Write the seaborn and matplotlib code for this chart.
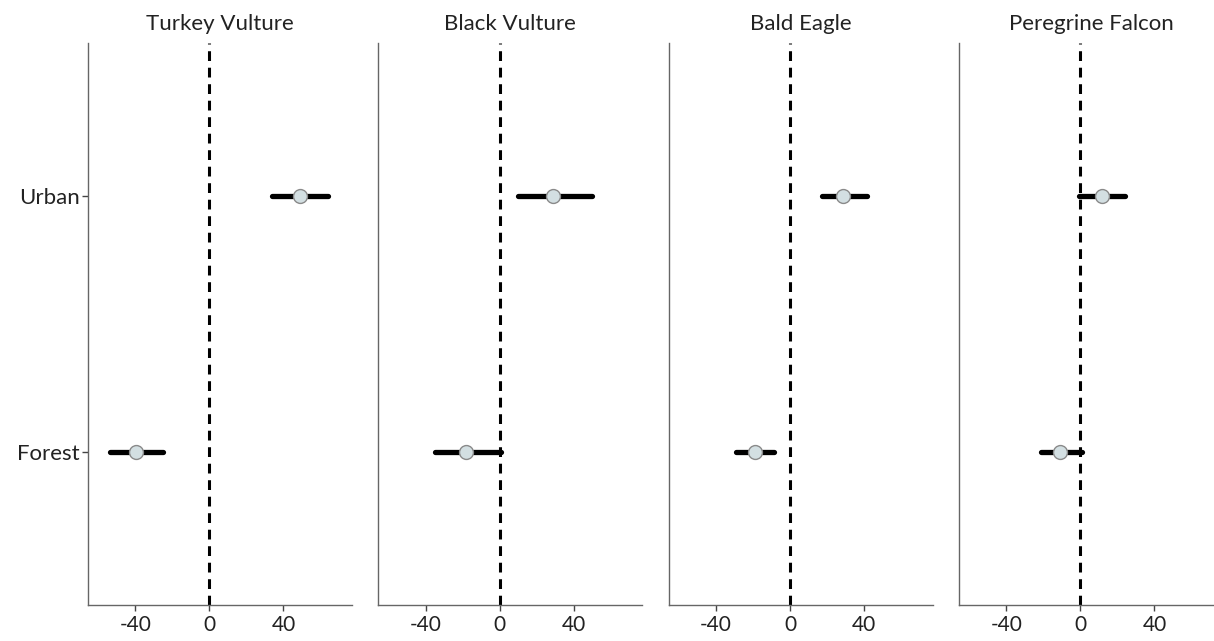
import pandas as pd
import numpy as np

import seaborn as sns
import matplotlib.pyplot as plt

# estimates
species = ["Turkey Vulture", "Black Vulture", "Bald Eagle", "Peregrine Falcon"]
habitat = ["Urban", "Forest"]
urban_est = [49, 29, 28.5, 11.5]
urban_lo = [34, 10, 17, -1]
urban_hi = [64, 50, 41.5, 24]
forest_est = [-39.5, -18, -19, -11]
forest_lo = [-53.5, -35, -29, -21]
forest_hi = [-25, 0.5, -8.5, 1]

data = pd.DataFrame({
    "species": species * 2,
    "habitat": ["Urban"] * 4 + ["Forest"] * 4,
    "est": urban_est + forest_est,
    "lo": urban_lo + forest_lo,
    "hi": urban_hi + forest_hi,
})
data["pos"] = pd.Categorical(data["habitat"], categories=["Forest", "Urban"]).codes

sns.set_theme(style="ticks")
plt.rcParams["font.family"] = ["Lato", "DejaVu Sans"]
plt.rcParams["axes.unicode_minus"] = False

g = sns.FacetGrid(data, col="species", col_order=species, sharex=True, sharey=True,
                  despine=True)
g.figure.set_size_inches(12.14, 6.41)


def draw_ci(data, **kws):
    ax = plt.gca()
    ax.axvline(0, color="black", lw=2.2, ls=(0, (3.2, 2.2)), zorder=1)
    ax.hlines(data["pos"], data["lo"], data["hi"], color="black", lw=3.8,
              capstyle="round", zorder=2)


g.map_dataframe(draw_ci)
g.map_dataframe(sns.scatterplot, x="est", y="pos", s=100, color="#d3dfe2",
                edgecolor="#8a8a8a", linewidth=1.0, zorder=3)

g.set(xlim=(-65.5, 77), ylim=(-0.6, 1.6), xticks=[-40, 0, 40])
g.set_titles("{col_name}")
g.set_axis_labels("", "")

for i, ax in enumerate(g.axes.flat):
    ax.set_yticks([0, 1])
    ax.set_yticklabels(["Forest", "Urban"])
    ax.tick_params(axis="both", length=4, width=1, colors="#444444",
                   labelcolor="#222222")
    ax.tick_params(axis="x", labelsize=15)
    ax.tick_params(axis="y", labelsize=16, pad=2)
    for s in ["left", "bottom"]:
        ax.spines[s].set_color("#666666")
        ax.spines[s].set_linewidth(1.0)
    if i > 0:
        ax.tick_params(axis="y", left=False, labelleft=False)
    ax.set_title(ax.get_title(), pad=9, size=16, color="#222222")

g.figure.subplots_adjust(left=88 / 1214, right=1223 / 1214, bottom=1 - 605 / 641,
                         top=1 - 43 / 641, wspace=0.1)

g.figure.savefig("out.png", dpi=100)
